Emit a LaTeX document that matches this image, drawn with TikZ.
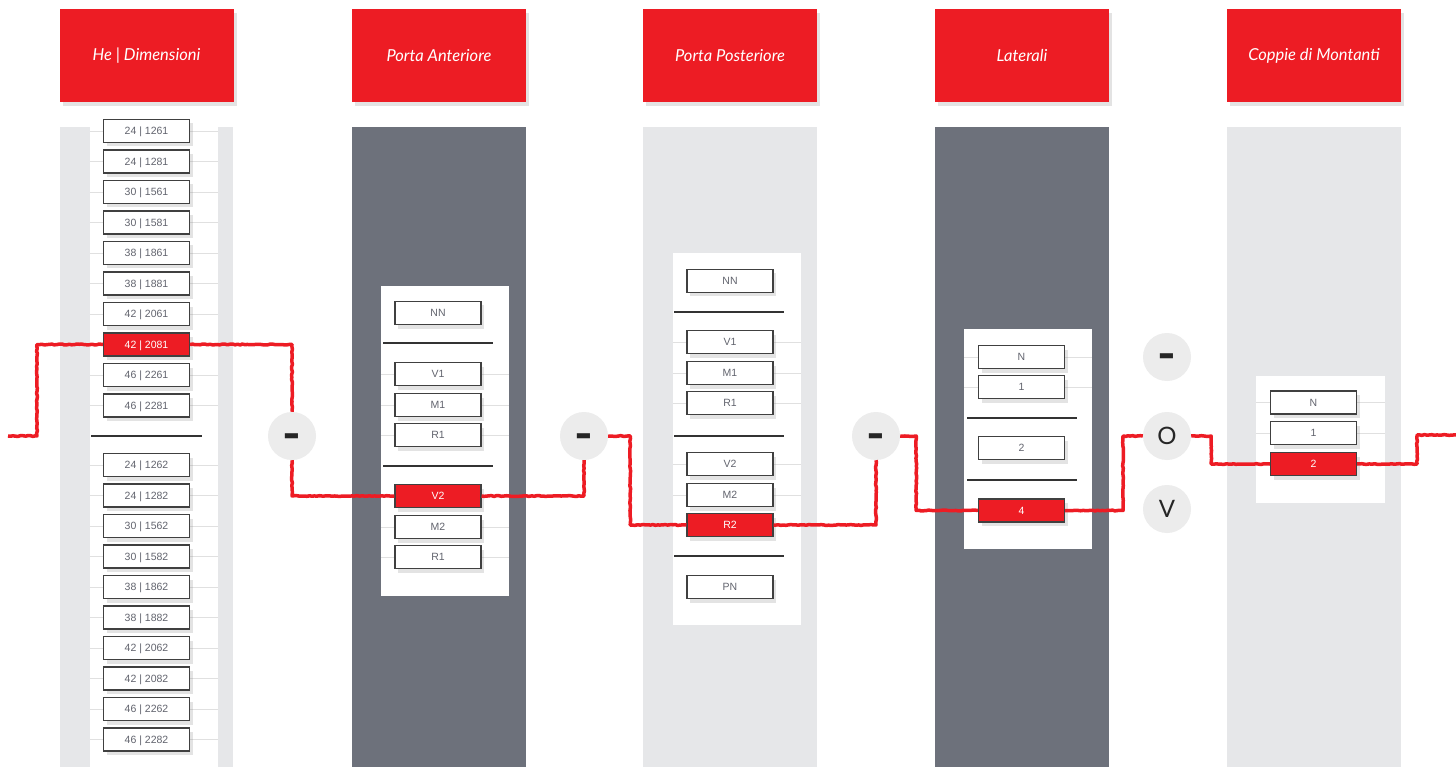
\documentclass[tikz,border=0pt]{standalone}
\usepackage{fontspec}
\setmainfont{Lato}
\newfontfamily\boxfont{Liberation Sans}
\usetikzlibrary{shadows,decorations.pathmorphing,calc}
\definecolor{brandred}{HTML}{ED1C24}
\definecolor{darkcol}{HTML}{6D717B}
\definecolor{lightcol}{HTML}{E6E7E9}
\definecolor{circfill}{HTML}{ECECEC}
\definecolor{txtgray}{HTML}{62646E}
\newcommand{\bigdash}{\smash{\raisebox{-17pt}{\scalebox{1.35}[2.4]{\bfseries –}}}}
\begin{document}
\begin{tikzpicture}[x=1pt,y=-1pt,
  hdr/.style={fill=brandred, minimum width=174pt, minimum height=93pt, inner sep=0pt, text=white,
    font=\fontsize{16.5}{18}\selectfont\itshape,
    drop shadow={opacity=0.22, shadow xshift=3pt, shadow yshift=-4pt}},
  opt/.style={draw=black!75, line width=1.1pt, fill=white, minimum width=86pt, minimum height=23pt,
    inner sep=0pt, text height=7.6pt, text depth=0pt, text=txtgray, font=\boxfont\fontsize{10.5}{12}\selectfont,
    drop shadow={opacity=0.22, shadow xshift=3pt, shadow yshift=-4pt}},
  sel/.style={opt, fill=brandred, text=white},
  sepline/.style={line width=1.2pt, draw=black!80},
  faint/.style={line width=0.5pt, draw=black!12},
  choice/.style={circle, fill=circfill, minimum size=48pt, inner sep=0pt,
    font=\fontsize{24}{24}\selectfont, text=black!85},
  redline/.style={draw=brandred, line width=3.5pt, line join=round,
    decorate, decoration={random steps, segment length=2.5pt, amplitude=0.45pt}}
]
\useasboundingbox (0,0) rectangle (1456,767);
\fill[white] (0,0) rectangle (1456,767);

% column backgrounds
\fill[lightcol] (60,127) rectangle (233,767);
\fill[white] (90,127) rectangle (218,767);
\fill[darkcol] (352,127) rectangle (526,767);
\fill[white] (381,286) rectangle (509,596);
\fill[lightcol] (643,127) rectangle (817,767);
\fill[white] (673,253) rectangle (801,625);
\fill[darkcol] (935,127) rectangle (1109,767);
\fill[white] (964,329) rectangle (1092,549);
\fill[lightcol] (1227,127) rectangle (1401,767);
\fill[white] (1256,376) rectangle (1385,503);

% headers
\node[hdr] (t1) at (146.5,55.5) {He | Dimensioni};
\node[hdr] (t2) at (439,55.5) {Porta Anteriore};
\node[hdr] (t3) at (730,55.5) {Porta Posteriore};
\node[hdr] (t4) at (1022,55.5) {Laterali};
\node[hdr] (t5) at (1314,55.5) {Coppie di Montanti};

% column 1
\foreach \i in {1,...,10}{
  \draw[faint] (90,131+30.5*\i-30.5) -- (218,131+30.5*\i-30.5);
  \draw[faint] (90,465+30.5*\i-30.5) -- (218,465+30.5*\i-30.5);
}
\foreach \lab [count=\i] in {24 | 1261,24 | 1281,30 | 1561,30 | 1581,38 | 1861,38 | 1881,42 | 2061}{
  \node[opt] (h\i) at (146.5,131+30.5*\i-30.5) {\lab};
}
\node[sel] (h8) at (146.5,344.5) {42 | 2081};
\node[opt] (h9) at (146.5,375) {46 | 2261};
\node[opt] (h10) at (146.5,405.5) {46 | 2281};
\draw[sepline] (91,436) -- (202,436);
\foreach \lab [count=\i] in {24 | 1262,24 | 1282,30 | 1562,30 | 1582,38 | 1862,38 | 1882,42 | 2062,42 | 2082,46 | 2262,46 | 2282}{
  \node[opt] (g\i) at (146.5,465+30.5*\i-30.5) {\lab};
}

% column 2
\foreach \yy in {374,405,435,496,527,557}{\draw[faint] (381,\yy) -- (509,\yy);}
\node[opt] (a0) at (438,313) {NN};
\draw[sepline] (383,343) -- (493,343);
\node[opt] (a1) at (438,374) {V1};
\node[opt] (a2) at (438,405) {M1};
\node[opt] (a3) at (438,435) {R1};
\draw[sepline] (383,466) -- (493,466);
\node[sel] (a4) at (438,496) {V2};
\node[opt] (a5) at (438,527) {M2};
\node[opt] (a6) at (438,557) {R1};

% column 3
\foreach \yy in {342,373,403,464,495,525}{\draw[faint] (673,\yy) -- (801,\yy);}
\node[opt] (p0) at (730,281) {NN};
\draw[sepline] (674,312) -- (784,312);
\node[opt] (p1) at (730,342) {V1};
\node[opt] (p2) at (730,373) {M1};
\node[opt] (p3) at (730,403) {R1};
\draw[sepline] (674,436) -- (784,436);
\node[opt] (p4) at (730,464) {V2};
\node[opt] (p5) at (730,495) {M2};
\node[sel] (p6) at (730,525) {R2};
\draw[sepline] (674,556) -- (784,556);
\node[opt] (p7) at (730,587) {PN};

% column 4
\foreach \yy in {357,387}{\draw[faint] (964,\yy) -- (1092,\yy);}
\node[opt] (l1) at (1021.5,357) {N};
\node[opt] (l2) at (1021.5,387) {1};
\draw[sepline] (967,418) -- (1077,418);
\node[opt] (l3) at (1021.5,448) {2};
\draw[sepline] (967,480) -- (1077,480);
\node[sel] (l4) at (1021.5,510.5) {4};

% column 5
\foreach \yy in {402,433}{\draw[faint] (1256,\yy) -- (1385,\yy);}
\node[opt] (m1) at (1313.5,402.5) {N};
\node[opt] (m2) at (1313.5,433) {1};
\node[sel] (m3) at (1313.5,464) {2};

% choice circles
\node[choice] (c1) at (292,436) {\bigdash};
\node[choice] (c2) at (584,436) {\bigdash};
\node[choice] (c3) at (876,436) {\bigdash};
\node[choice] (cM) at (1167,357) {\bigdash};
\node[choice] (cO) at (1167,436) {O};
\node[choice] (cV) at (1167,509) {V};

% red path
\coordinate (start) at (8,436);
\coordinate (finish) at (1456,435);
\draw[redline] (start) -- ++(29,0) |- (h8.west);
\draw[redline] (h8.east) -| (c1.north);
\draw[redline] (c1.south) |- (a4.west);
\draw[redline] (a4.east) -| (c2.south);
\draw[redline] (c2.east) -- ++(22,0) |- (p6.west);
\draw[redline] (p6.east) -| (c3.south);
\draw[redline] (c3.east) -- ++(16,0) |- (l4.west);
\draw[redline] (l4.east) -- ++(58,0) |- (cO.west);
\draw[redline] (cO.east) -- ++(20,0) |- (m3.west);
\draw[redline] (m3.east) -- ++(60,0) |- (finish);
\end{tikzpicture}
\end{document}
